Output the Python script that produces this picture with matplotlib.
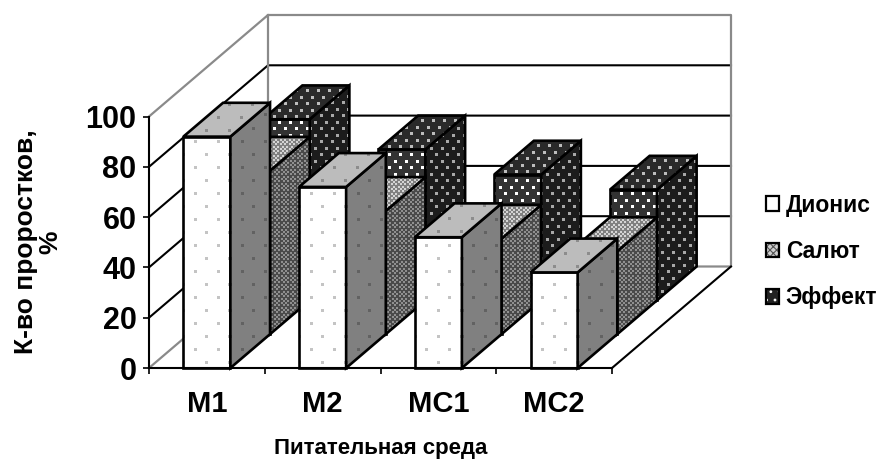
import matplotlib
matplotlib.use("Agg")
import matplotlib.pyplot as plt
import numpy as np
from matplotlib.patches import Patch, Polygon

plt.rcParams['font.family'] = ['Liberation Sans', 'DejaVu Sans']
plt.rcParams['hatch.linewidth'] = 0.8

# данные
categories = ["М1", "М2", "МС1", "МС2"]
series_names = ["Дионис", "Салют", "Эффект"]
dionis = [92, 72, 52, 38]
salut = [65, 49, 38, 33]
effekt = [72, 60, 50, 44]
y_ticks = [0, 20, 40, 60, 80, 100]

# масштаб в пикселях на единицу данных
PX_X = 115.75
PX_Y = 2.515
# вектор глубины (косая проекция)
DEPTH_X = 119 / PX_X
DEPTH_Y = 101.5 / PX_Y
BAR_W = 47 / PX_X
GREY = "#8a8a8a"

# стили граней: основа, цвет точек, шаг по x и y, размер точки (в пикселях)
styles = [
    {"front": ("#ffffff", "#c4c4c4", 23, 13, 3),
     "side": ("#808080", "#626262", 23, 13, 3),
     "top": ("#bcbcbc", "#8c8c8c", 23, 13, 3)},
    {"front": ("#8c8c8c", "#d0d0d0", 4.6, 2.3, 2.3),
     "side": ("#4a4a4a", "#909090", 4.6, 2.3, 2.3),
     "top": ("#808080", "#d4d4d4", 4.6, 2.3, 2.3)},
    {"front": ("#333333", "#ffffff", 11, 6.5, 3),
     "side": ("#1c1c1c", "#a8a8a8", 11, 6.5, 3),
     "top": ("#2a2a2a", "#bdbdbd", 11, 6.5, 3)},
]


def proj(x, d, v):
    return x + d * DEPTH_X, v + d * DEPTH_Y


def stipple(ax, patch, pts, face, z):
    _, dot, step_x, step_y, size = face
    pts = np.array(pts)
    # сетка точек в пикселях, чётные ряды сдвинуты на полшага
    xs_px = np.arange(pts[:, 0].min() * PX_X - step_x, pts[:, 0].max() * PX_X + step_x, step_x)
    ys_px = np.arange(pts[:, 1].min() * PX_Y + step_y / 2, pts[:, 1].max() * PX_Y + step_y, step_y)
    gx, gy = [], []
    for n, yy in enumerate(ys_px):
        gx.extend(xs_px + (step_x / 2 if n % 2 else 0))
        gy.extend([yy] * len(xs_px))
    dots = ax.scatter(np.array(gx) / PX_X, np.array(gy) / PX_Y, s=(size * 0.72) ** 2, marker="s",
                      color=dot, linewidths=0, zorder=z)
    dots.set_clip_path(patch)


def draw_face(ax, pts, face, z):
    patch = Polygon(pts, closed=True, facecolor=face[0], edgecolor="none", zorder=z)
    ax.add_patch(patch)
    stipple(ax, patch, pts, face, z)
    ax.add_patch(Polygon(pts, closed=True, facecolor="none", edgecolor="black", linewidth=1.9,
                         joinstyle="miter", zorder=z))


fig = plt.figure(figsize=(8.81, 4.59), dpi=100)
ax = fig.add_axes([0, 0, 1, 1])
ax.set_xlim(-149 / PX_X, (881 - 149) / PX_X)
ax.set_ylim(-91 / PX_Y, 368 / PX_Y)
ax.patch.set_visible(False)

n_cat = len(categories)

# стенки и пол
for val in y_ticks[1:-1]:
    x1, y1 = proj(0, 1, val)
    x2, y2 = proj(n_cat, 1, val)
    ax.plot([0, x1, x2], [val, y1, y2], color="black", lw=1.5, zorder=1)
x_a, y_a = proj(0, 1, 0)
x_b, y_b = proj(n_cat, 1, 0)
x_c, y_c = proj(0, 1, 100)
x_d, y_d = proj(n_cat, 1, 100)
ax.plot([0, x_c, x_d, x_b, x_a, x_c], [100, y_c, y_d, y_b, y_a, y_c], color=GREY, lw=1.6, zorder=1.2)
ax.plot([0, x_a], [0, y_a], color=GREY, lw=1.6, zorder=1.2)
ax.plot([n_cat, x_b], [0, y_b], color="black", lw=1.5, zorder=1.2)

# столбики: от дальнего ряда к ближнему
values = [dionis, salut, effekt]
z = 3
for j in [2, 1, 0]:
    d0, d1 = j / 3, (j + 1) / 3
    for i in range(n_cat):
        x0 = i + 0.5 - BAR_W / 2
        x1 = x0 + BAR_W
        v = values[j][i]
        front = [proj(x0, d0, 0), proj(x1, d0, 0), proj(x1, d0, v), proj(x0, d0, v)]
        side = [proj(x1, d0, 0), proj(x1, d1, 0), proj(x1, d1, v), proj(x1, d0, v)]
        top = [proj(x0, d0, v), proj(x1, d0, v), proj(x1, d1, v), proj(x0, d1, v)]
        draw_face(ax, front, styles[j]["front"], z)
        draw_face(ax, side, styles[j]["side"], z + 0.1)
        draw_face(ax, top, styles[j]["top"], z + 0.2)
        z += 1

# оси
for name in ["top", "right"]:
    ax.spines[name].set_visible(False)
ax.spines["left"].set_position(("data", 0))
ax.spines["bottom"].set_position(("data", 0))
ax.spines["left"].set_bounds(0, 100)
ax.spines["bottom"].set_bounds(0, n_cat)
for name in ["left", "bottom"]:
    ax.spines[name].set_linewidth(1.5)
    ax.spines[name].set_zorder(100)

ax.set_yticks(y_ticks)
ax.set_yticklabels([str(t) for t in y_ticks], fontsize=22, fontweight="bold")
ax.set_xticks(range(n_cat + 1))
ax.set_xticklabels([])
ax.set_xticks(np.arange(n_cat) + 0.5, minor=True)
ax.set_xticklabels(categories, minor=True, fontsize=21, fontweight="bold")
ax.tick_params(axis="both", which="major", length=4, width=1.2, pad=5)
ax.tick_params(axis="x", which="minor", length=0, pad=16)

ax.set_xlabel("Питательная среда", fontsize=16, fontweight="bold", va="baseline")
ax.xaxis.set_label_coords(231.5 / PX_X, -86 / PX_Y, transform=ax.transData)
ax.set_ylabel("К-во проростков,\n%", fontsize=19, fontweight="bold", ha="center", va="center", linespacing=1.05)
ax.yaxis.set_label_coords(-111 / PX_X, 126 / PX_Y, transform=ax.transData)

# легенда
handles = [
    Patch(facecolor="white", edgecolor="black", linewidth=1.6),
    (Patch(facecolor="#d0d0d0", edgecolor="#555555", linewidth=0, hatch="xxxxx"),
     Patch(facecolor="none", edgecolor="black", linewidth=1.6)),
    (Patch(facecolor="#222222", edgecolor="white", linewidth=0, hatch=".."),
     Patch(facecolor="none", edgecolor="black", linewidth=1.6)),
]
ax.legend(handles, series_names, loc="center left", bbox_to_anchor=(0.856, 0.452), frameon=False,
          prop={"weight": "bold", "size": 16.5}, handlelength=0.6, handleheight=0.6,
          handletextpad=0.28, labelspacing=1.02, borderpad=0)

fig.savefig("out.png", dpi=100)
